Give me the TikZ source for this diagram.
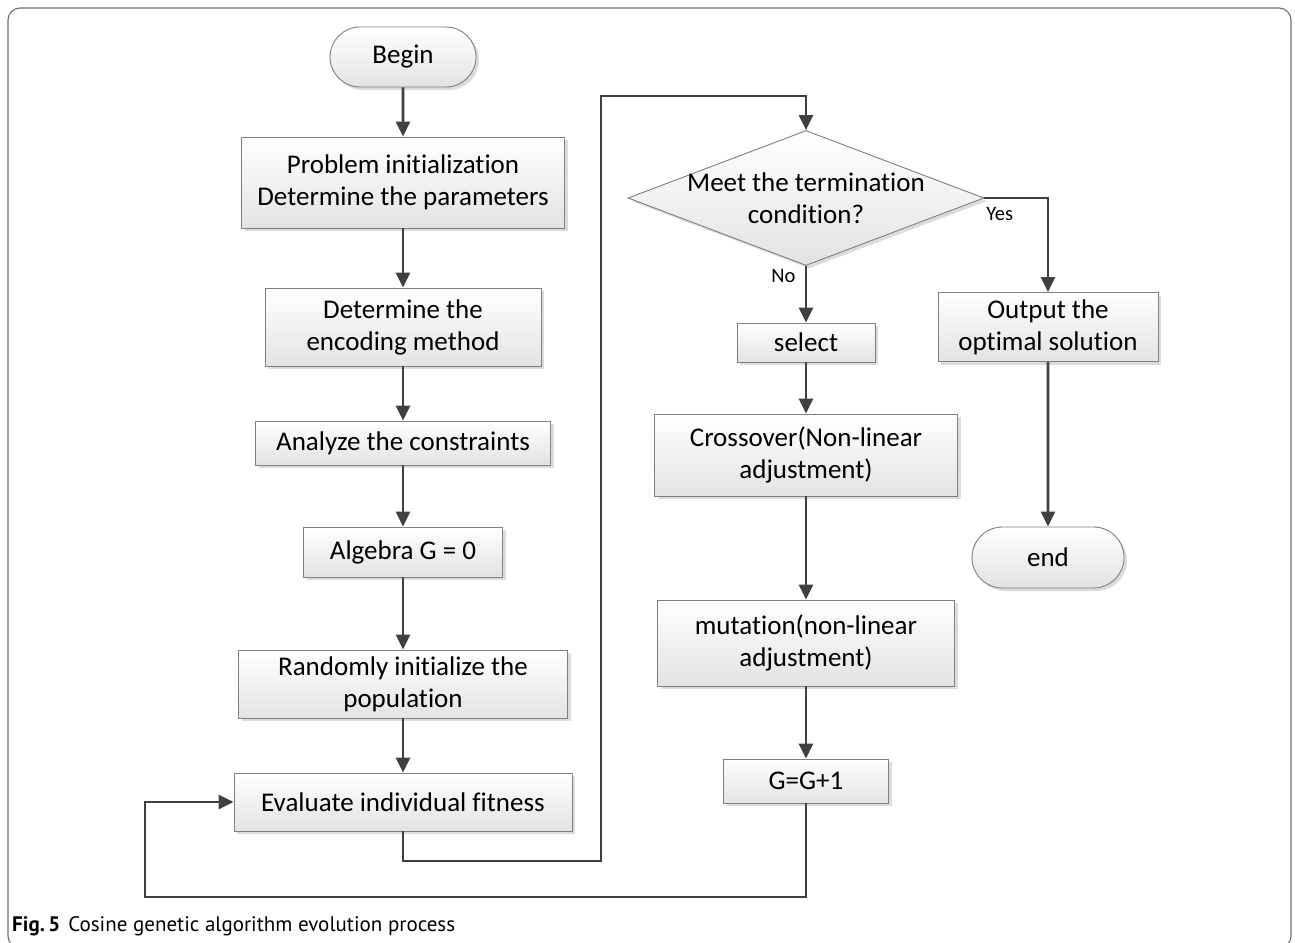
\documentclass[tikz,border=0pt]{standalone}
\usepackage{fontspec}
\setmainfont{Carlito}[Ligatures=CommonOff]
\newfontfamily\capfont{PT Sans}
\usetikzlibrary{arrows.meta,shapes.geometric,shapes.misc,shadows}
\definecolor{arrc}{HTML}{404040}
\definecolor{bordc}{HTML}{7F7F7F}
\definecolor{framec}{HTML}{6E6E6E}
\begin{document}
\begin{tikzpicture}[x=1pt,y=-1pt,
  boxfill/.style={draw=bordc, line width=0.9pt, top color=white, bottom color=black!11,
    drop shadow={shadow xshift=3pt, shadow yshift=-3pt, fill=black!30, opacity=0.45}},
  stepbox/.style={boxfill, rectangle, inner sep=0pt, align=center, font=\fontsize{27}{32}\selectfont},
  termbox/.style={boxfill, rounded rectangle, inner sep=0pt, font=\fontsize{27}{32}\selectfont},
  decbox/.style={boxfill, diamond, inner sep=0pt},
  txt/.style={align=center, font=\fontsize{27}{32}\selectfont},
  lbl/.style={font=\fontsize{20.5}{24}\selectfont},
  arr/.style={draw=arrc, line width=2.6pt, -{Triangle[length=15pt,width=14pt]}}]
\useasboundingbox (0,0) rectangle (1295,942);
\draw[framec, line width=1.1pt, rounded corners=12pt] (8,8) rectangle (1291,948);

% left column
\node[termbox, minimum width=146pt, minimum height=60pt] (begin) at (403,57) {Begin};
\node[stepbox, minimum width=323pt, minimum height=91pt] (init) at (403,182.5) {Problem initialization\\Determine the parameters};
\node[stepbox, minimum width=276pt, minimum height=78pt] (enc) at (403,327) {Determine the\\encoding method};
\node[stepbox, minimum width=295pt, minimum height=44pt] (cons) at (403,443) {Analyze the constraints};
\node[stepbox, minimum width=199pt, minimum height=50pt] (alg) at (403,552) {Algebra G = 0};
\node[stepbox, minimum width=329pt, minimum height=68pt] (pop) at (403,684) {Randomly initialize the\\population};
\node[stepbox, minimum width=338pt, minimum height=58pt] (eval) at (403,802) {Evaluate individual fitness};

% right column
\node[decbox, minimum width=356pt, minimum height=135pt] (dec) at (806,198) {};
\node[txt] (dectxt) at (806,198) {Meet the termination\\condition?};
\node[stepbox, minimum width=138pt, minimum height=39pt] (sel) at (806,342.5) {select};
\node[stepbox, minimum width=303pt, minimum height=82pt] (cross) at (806,455) {Crossover(Non-linear\\adjustment)};
\node[stepbox, minimum width=297pt, minimum height=86pt] (mut) at (806,643) {mutation(non-linear\\adjustment)};
\node[stepbox, minimum width=165pt, minimum height=44pt] (gg) at (806,781) {G=G+1};

\node[stepbox, minimum width=220pt, minimum height=69pt] (out) at (1048,327) {Output the\\optimal solution};
\node[termbox, minimum width=152pt, minimum height=61pt] (end) at (1048,557.5) {end};

% connectors
\draw[arr] (begin) -- (init);
\draw[arr] (init) -- (enc);
\draw[arr] (enc) -- (cons);
\draw[arr] (cons) -- (alg);
\draw[arr] (alg) -- (pop);
\draw[arr] (pop) -- (eval);

\coordinate (c1) at (601,861);
\coordinate (c2) at (601,96);
\draw[arr] (eval.south) |- (c1) -- (c2) -| (dec.north);

\draw[arr] (dec.south) -- node[lbl, pos=0.18, left=6pt] {No} (sel.north);
\draw[arr] (dec.east) -| node[lbl, pos=0.12, below=5pt] {Yes} (out.north);
\draw[arr] (sel) -- (cross);
\draw[arr] (cross) -- (mut);
\draw[arr] (mut) -- (gg);
\draw[arr] (out) -- (end);

\coordinate (c3) at (145,897);
\draw[arr] (gg.south) |- (c3) |- (eval.west);

% caption
\node[anchor=base west, inner sep=0pt, font=\capfont\fontsize{21}{24}\selectfont] (cap) at (12,931)
  {\textbf{Fig.\,5}\hspace{8pt}Cosine genetic algorithm evolution process};
\end{tikzpicture}
\end{document}
